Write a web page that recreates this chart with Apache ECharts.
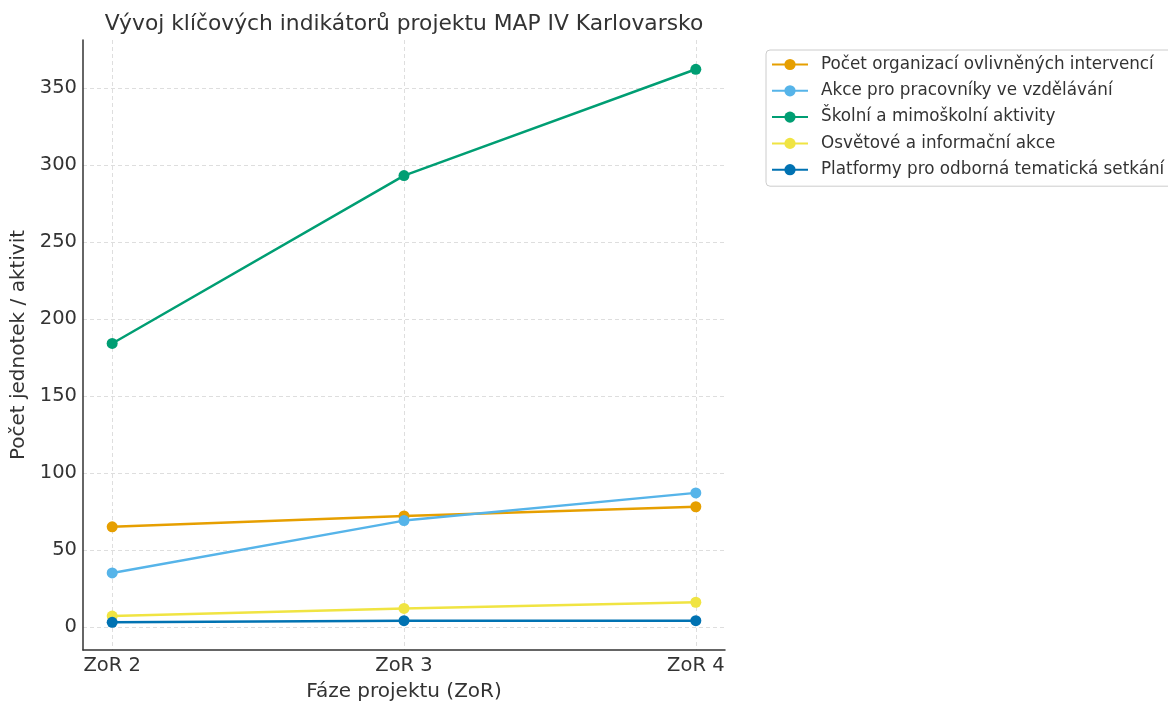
<!DOCTYPE html>
<html>
<head>
<meta charset="utf-8">
<script src="https://cdn.jsdelivr.net/npm/echarts@6/dist/echarts.min.js"></script>
<style>
  html, body { margin: 0; padding: 0; background: #fff; }
  #chart { width: 1168px; height: 702px; }
</style>
</head>
<body>
<div id="chart"></div>
<script>
const phases = ['ZoR 2', 'ZoR 3', 'ZoR 4'];
const yTicks = [0, 50, 100, 150, 200, 250, 300, 350];

const seriesNames = [
  'Počet organizací ovlivněných intervencí',
  'Akce pro pracovníky ve vzdělávání',
  'Školní a mimoškolní aktivity',
  'Osvětové a informační akce',
  'Platformy pro odborná tematická setkání'
];
const organizace = [65, 72, 78];
const akcePracovnici = [35, 69, 87];
const skolniAktivity = [184, 293, 362];
const osvetoveAkce = [7, 12, 16];
const platformy = [3, 4, 4];

const colors = ['#E69F00', '#56B4E9', '#009E73', '#F0E442', '#0072B2'];
const values = [organizace, akcePracovnici, skolniAktivity, osvetoveAkce, platformy];

const font = 'DejaVu Sans';
const chart = echarts.init(document.getElementById('chart'));

chart.setOption({
  animation: false,
  textStyle: { fontFamily: font },
  title: {
    text: 'Vývoj klíčových indikátorů projektu MAP IV Karlovarsko',
    left: 399,
    textAlign: 'center',
    top: 8,
    textStyle: { fontFamily: font, fontSize: 21.8, fontWeight: 'normal', color: '#333' }
  },
  legend: {
    orient: 'vertical',
    left: 766,
    top: 50,
    padding: [6, 8, 8, 5],
    itemWidth: 36,
    itemHeight: 14,
    itemGap: 9.3,
    borderColor: '#ccc',
    borderWidth: 1,
    borderRadius: 4,
    textStyle: { fontFamily: font, fontSize: 16.8, color: '#333', padding: [0, 0, 0, 8] },
    data: seriesNames
  },
  grid: { left: 83, right: 443, top: 40, bottom: 52, outerBoundsMode: 'none' },
  xAxis: {
    type: 'value',
    min: -0.1,
    max: 2.1,
    name: 'Fáze projektu (ZoR)',
    nameLocation: 'middle',
    nameGap: 32,
    nameTextStyle: { fontFamily: font, fontSize: 20, color: '#333' },
    axisLine: { onZero: false, lineStyle: { color: '#333', width: 1.5 } },
    axisTick: { show: false, customValues: [0, 1, 2] },
    axisLabel: {
      customValues: [0, 1, 2],
      formatter: v => phases[Math.round(v)],
      fontFamily: font, fontSize: 19.5, color: '#333', margin: 6
    },
    splitLine: { show: true, lineStyle: { color: '#d5d5d5', type: [4, 3], width: 0.8 } }
  },
  yAxis: {
    type: 'value',
    min: -15,
    max: 381,
    name: 'Počet jednotek / aktivit',
    nameLocation: 'middle',
    nameGap: 53,
    nameTextStyle: { fontFamily: font, fontSize: 20, color: '#333' },
    axisLine: { show: true, onZero: false, lineStyle: { color: '#333', width: 1.5 } },
    axisTick: { show: false, customValues: yTicks },
    axisLabel: { customValues: yTicks, fontFamily: font, fontSize: 19.5, color: '#333', margin: 6 },
    splitLine: { show: true, lineStyle: { color: '#d5d5d5', type: [4, 3], width: 0.8 } }
  },
  series: seriesNames.map((name, i) => ({
    name,
    type: 'line',
    data: values[i].map((v, j) => [j, v]),
    symbol: 'circle',
    symbolSize: 11,
    color: colors[i],
    lineStyle: { width: 2.5 },
    emphasis: { disabled: true }
  }))
});
</script>
</body>
</html>
